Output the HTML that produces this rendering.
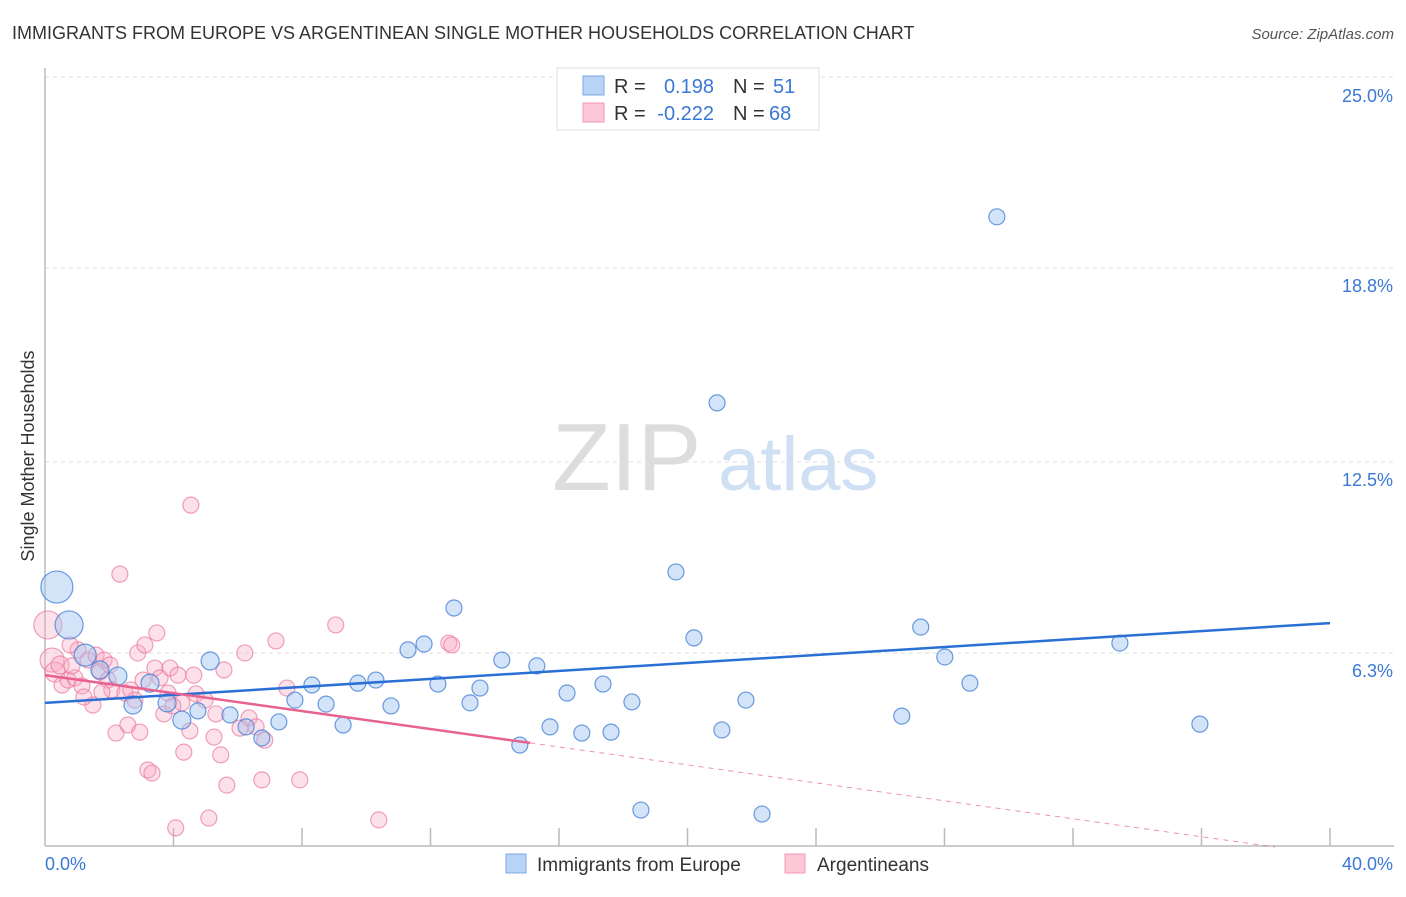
<!DOCTYPE html>
<html><head><meta charset="utf-8"><style>
body{margin:0;background:#fff;font-family:"Liberation Sans",sans-serif;}
svg text{font-family:"Liberation Sans",sans-serif;}
</style></head><body>
<svg id="chart" width="1406" height="892" xmlns="http://www.w3.org/2000/svg">
<text x="12" y="39" font-size="18" fill="#333">IMMIGRANTS FROM EUROPE VS ARGENTINEAN SINGLE MOTHER HOUSEHOLDS CORRELATION CHART</text>
<text x="1394" y="39" font-size="15" fill="#555" text-anchor="end" font-style="italic">Source: ZipAtlas.com</text>
<text transform="translate(34,456) rotate(-90)" font-size="18" fill="#333" text-anchor="middle">Single Mother Households</text>
<g>
<text x="552" y="490" font-size="96" fill="#ddd" font-family="Liberation Serif" >ZIP</text>
<text x="718" y="490" font-size="76" fill="#cfe0f5">atlas</text>
</g>
<g id="grid"></g><g id="axes"></g><g id="pts"></g><g id="lines"></g>
<g>
<rect x="557" y="68" width="262" height="62" fill="#fff" stroke="#ddd"/>
<rect x="583" y="76" width="21" height="19" fill="#b9d3f5" stroke="#7aa7e6"/>
<rect x="583" y="103" width="21" height="19" fill="#fcc8d8" stroke="#f09ab5"/>
<text x="614" y="93" font-size="20" fill="#333">R =</text>
<text x="714" y="93" font-size="20" fill="#3a78d6" text-anchor="end">0.198</text>
<text x="733" y="93" font-size="20" fill="#333">N =</text>
<text x="773" y="93" font-size="20" fill="#3a78d6">51</text>
<text x="614" y="120" font-size="20" fill="#333">R =</text>
<text x="714" y="120" font-size="20" fill="#3a78d6" text-anchor="end">-0.222</text>
<text x="733" y="120" font-size="20" fill="#333">N =</text>
<text x="769" y="120" font-size="20" fill="#3a78d6">68</text>
</g>
<g>
<rect x="506" y="854" width="20" height="19" fill="#b9d3f5" stroke="#7aa7e6"/>
<text x="537" y="871" font-size="19" fill="#333">Immigrants from Europe</text>
<rect x="785" y="854" width="20" height="19" fill="#fcc8d8" stroke="#f09ab5"/>
<text x="817" y="871" font-size="19" fill="#333">Argentineans</text>
</g>
</svg>
<script>
const yTicks=[6.3,12.5,18.8,25.0];
const xTickCount=10;
const blueX=[0.37,0.75,1.25,1.71,2.27,2.74,3.27,3.80,4.26,4.76,5.14,5.76,6.26,6.75,7.28,7.78,8.31,8.75,9.28,9.74,10.30,10.77,11.30,11.80,12.23,12.73,13.23,13.54,14.22,14.78,15.31,15.72,16.25,16.71,17.37,17.62,18.27,18.55,19.64,20.20,20.92,21.07,21.82,22.32,26.67,27.26,28.01,28.79,29.63,33.46,35.95];
const blueY=[8.44,7.21,6.23,5.75,5.55,4.61,5.32,4.68,4.12,4.42,6.04,4.29,3.90,3.54,4.06,4.77,5.26,4.64,3.96,5.32,5.42,4.58,6.40,6.59,5.29,7.76,4.68,5.16,6.07,3.31,5.88,3.90,5.00,3.70,5.29,3.73,4.71,1.20,8.93,6.79,14.42,3.80,4.77,1.07,4.25,7.14,6.17,5.32,20.46,6.62,3.99];
const blueSize=[16,14,11,9,9,9,9,9,9,8,9,8,8,8,8,8,8,8,8,8,8,8,8,8,8,8,8,8,8,8,8,8,8,8,8,8,8,8,8,8,8,8,8,8,8,8,8,8,8,8,8];
const pinkX=[0.09,0.22,0.31,0.47,0.53,0.72,0.93,1.03,1.15,1.34,1.49,1.59,1.71,1.84,1.96,2.08,2.21,2.33,2.49,2.58,2.67,2.80,2.95,2.89,3.11,3.20,3.33,3.42,3.48,3.58,3.70,3.83,3.89,4.07,4.14,4.26,4.32,4.51,4.54,4.63,4.70,5.10,5.26,5.32,5.47,5.57,5.66,6.22,6.35,6.57,6.75,6.84,7.19,7.53,7.93,9.05,10.39,12.57,12.66,0.78,1.21,1.77,2.02,3.05,3.98,4.98,6.07,0.84];
const pinkY=[7.21,6.07,5.68,5.91,5.26,5.42,5.49,6.40,5.23,6.07,4.61,6.23,5.68,6.07,5.42,5.10,3.70,8.86,5.00,3.96,5.10,4.77,3.73,6.30,6.56,2.50,2.40,5.81,6.95,5.49,4.32,5.00,5.81,0.62,5.58,4.68,3.08,3.77,11.10,5.58,4.97,0.94,3.57,4.32,2.99,5.75,2.01,6.30,4.19,3.90,2.18,3.47,6.69,5.16,2.18,7.21,0.88,6.62,6.56,6.56,4.87,5.03,5.91,5.42,4.58,4.77,3.86,5.88];
const pinkSize=[14,12,10,9];
const blueTrend=[4.68,7.27];
const pinkTrend=[5.58,-0.25];
const pinkSolidEnd=15.1;
const NS="http://www.w3.org/2000/svg";
const X0=45,X1=1330,Y0=847,YPX=192.5/6.25;
const sx=v=>X0+(X1-X0)*v/40;
const sy=v=>Y0-v*YPX;
function mk(tag,attrs,parent){const e=document.createElementNS(NS,tag);for(const k in attrs)e.setAttribute(k,attrs[k]);parent.appendChild(e);return e;}
const grid=document.getElementById('grid'),axes=document.getElementById('axes'),pts=document.getElementById('pts'),lines=document.getElementById('lines');
yTicks.forEach(t=>{
 const y=sy(t);
 const g=mk('line',{x1:45,x2:1394,y1:y,y2:y,stroke:'#ddd','stroke-dasharray':'4,4'},grid);
 
 
 const l=mk('text',{x:1393,y:y-26+y*0,'font-size':18,fill:'#3a78d6','text-anchor':'end'},axes);
 l.setAttribute('y',y+26*0+ (t===25?25:24));
 l.textContent=t.toFixed(1)+'%';
 
 
});
const ax=mk('line',{x1:45,x2:45,y1:68,y2:846,stroke:'#bbb','stroke-width':1.5},axes);


const bx=mk('line',{x1:45,x2:1394,y1:846,y2:846,stroke:'#bbb','stroke-width':1.5},axes);


for(let i=1;i<=xTickCount;i++){
 const x=sx(i*40/xTickCount);
 const t=mk('line',{x1:x,x2:x,y1:828,y2:846,stroke:'#bbb','stroke-width':1.5},axes);
 
 
}
const xl=mk('text',{x:45,y:870,'font-size':18,fill:'#3a78d6'},axes);xl.textContent='0.0%';


const xr=mk('text',{x:1393,y:870,'font-size':18,fill:'#3a78d6','text-anchor':'end'},axes);xr.textContent='40.0%';


pinkX.forEach((v,i)=>{
 const c=mk('circle',{cx:sx(v),cy:sy(pinkY[i]),r:pinkSize[i]||8,fill:'rgba(248,170,195,0.35)',stroke:'rgba(234,120,160,0.7)','stroke-width':1.2},pts);
 
 
});
blueX.forEach((v,i)=>{
 const c=mk('circle',{cx:sx(v),cy:sy(blueY[i]),r:blueSize[i]||8,fill:'rgba(160,195,240,0.45)',stroke:'rgba(70,130,215,0.8)','stroke-width':1.2},pts);
 
 
});
const bl=mk('line',{x1:sx(0),y1:sy(blueTrend[0]),x2:sx(40),y2:sy(blueTrend[1]),stroke:'#2a6fd6','stroke-width':2.5},lines);


const slope=(pinkTrend[1]-pinkTrend[0])/40;
const pe=pinkTrend[0]+slope*pinkSolidEnd;
const pl=mk('line',{x1:sx(0),y1:sy(pinkTrend[0]),x2:sx(pinkSolidEnd),y2:sy(pe),stroke:'#e8628f','stroke-width':2.5},lines);


const zx=-pinkTrend[0]/slope;
const pd=mk('line',{x1:sx(pinkSolidEnd),y1:sy(pe),x2:sx(Math.min(zx,40)),y2:sy(pinkTrend[0]+slope*Math.min(zx,40)),stroke:'#e8628f','stroke-width':1,'stroke-dasharray':'5,5',opacity:0.7},lines);


</script>
</body></html>
